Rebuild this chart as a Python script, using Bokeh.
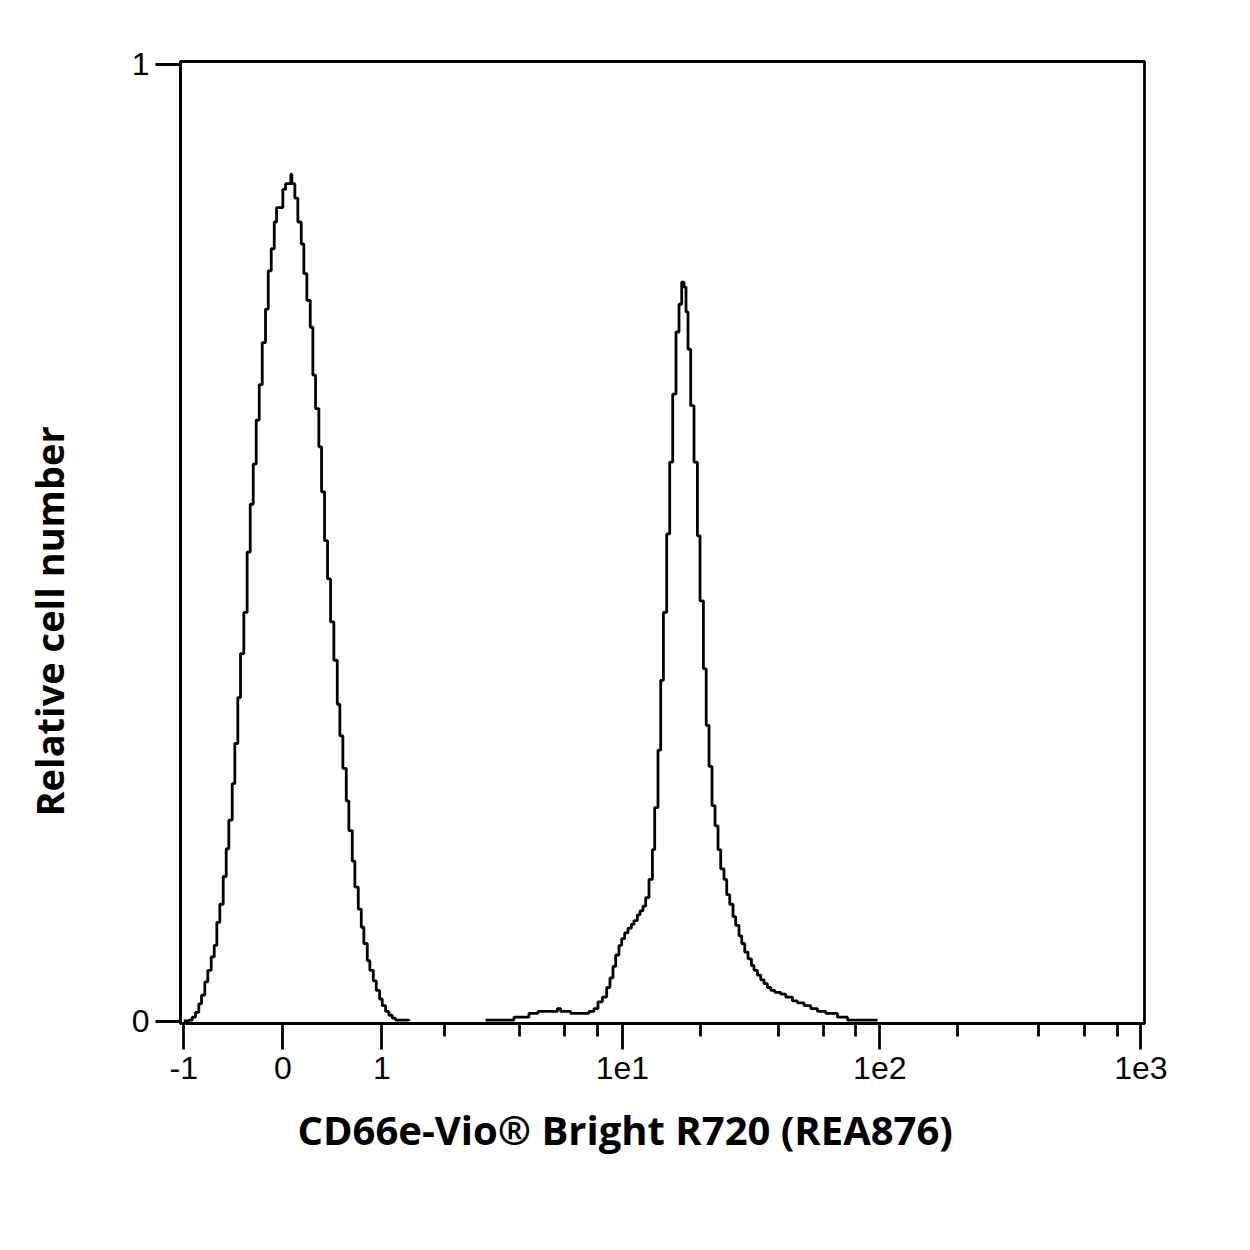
from bokeh.plotting import figure
from bokeh.models import FixedTicker, Range1d, Title, LinearAxis
from bokeh.embed import file_html
from bokeh.resources import INLINE

# ---- data (x in display-channel units of the biexponential axis, y = relative cell number) ----
# negative population: step boundaries and the level to the right of each boundary
neg_x = [3.3, 8.3, 11.7, 15.0, 18.3, 21.0, 24.3, 27.3, 30.7, 33.7, 36.3, 39.3, 42.7, 45.7,
         48.3, 51.7, 54.3, 57.3, 60.0, 63.3, 66.6, 69.7, 72.7, 75.7, 78.7, 81.7, 85.0, 87.7,
         90.7, 93.7, 96.0, 102.3, 105.0, 110.3, 111.3, 114.3, 117.3, 120.7, 123.3, 126.3,
         129.7, 132.3, 135.0, 138.3, 141.0, 144.0, 147.0, 150.0, 153.3, 156.7, 159.3, 162.3,
         165.7, 168.3, 171.7, 174.3, 177.7, 180.7, 183.3, 186.7, 189.3, 192.7, 195.7, 199.0,
         201.7, 205.0, 208.3, 211.7, 215.0, 228.3]
neg_y = [0.000, 0.001, 0.004, 0.009, 0.018, 0.027, 0.041, 0.053, 0.067, 0.079, 0.103, 0.122,
         0.151, 0.180, 0.210, 0.248, 0.290, 0.338, 0.384, 0.427, 0.490, 0.540, 0.582, 0.628,
         0.665, 0.709, 0.744, 0.784, 0.807, 0.835, 0.850, 0.869, 0.875, 0.885, 0.875, 0.860,
         0.835, 0.812, 0.781, 0.753, 0.725, 0.675, 0.640, 0.600, 0.553, 0.502, 0.462, 0.417,
         0.377, 0.331, 0.298, 0.264, 0.230, 0.199, 0.167, 0.140, 0.117, 0.098, 0.081, 0.063,
         0.053, 0.042, 0.032, 0.023, 0.016, 0.010, 0.006, 0.003, 0.001, 0.000]

# positive (CD66e+) population
pos_x = [305.0, 333.3, 348.3, 357.3, 376.7, 380.0, 390.0, 408.3, 413.3, 417.3, 421.7, 426.0,
         429.3, 432.3, 435.0, 438.3, 441.0, 444.0, 447.3, 450.7, 453.3, 456.7, 459.3, 462.3,
         465.0, 468.3, 471.7, 474.0, 477.3, 480.0, 482.7, 486.0, 489.0, 492.0, 495.3, 498.3,
         501.0, 503.3, 505.3, 507.3, 510.0, 513.3, 516.7, 519.3, 522.7, 525.5, 528.3, 531.3,
         534.3, 537.3, 540.0, 543.3, 546.0, 549.0, 552.3, 555.0, 558.3, 561.0, 564.0, 567.3,
         570.7, 573.3, 576.7, 580.0, 583.3, 586.7, 590.0, 594.0, 600.0, 605.0, 611.7, 616.7,
         623.3, 630.0, 636.7, 645.0, 656.7, 666.7, 696.7]
pos_y = [0.001, 0.004, 0.008, 0.010, 0.013, 0.010, 0.008, 0.010, 0.013, 0.020, 0.025, 0.035,
         0.045, 0.057, 0.069, 0.079, 0.086, 0.092, 0.097, 0.101, 0.105, 0.111, 0.115, 0.120,
         0.129, 0.148, 0.179, 0.223, 0.283, 0.356, 0.427, 0.509, 0.584, 0.655, 0.720, 0.749,
         0.772, 0.767, 0.741, 0.702, 0.643, 0.584, 0.507, 0.439, 0.368, 0.309, 0.266, 0.225,
         0.204, 0.179, 0.159, 0.148, 0.132, 0.122, 0.109, 0.100, 0.089, 0.081, 0.072, 0.065,
         0.058, 0.053, 0.048, 0.043, 0.039, 0.035, 0.032, 0.030, 0.028, 0.025, 0.021, 0.019,
         0.016, 0.013, 0.010, 0.008, 0.004, 0.001, 0.001]

# axis ticks (positions in display channel) and labels
x_major_ticks = [3.3, 102.3, 201.3, 441.7, 699.0, 960.0]
x_major_labels = ["-1", "0", "1", "1e1", "1e2", "1e3"]
x_minor_ticks = [264.3, 339.3, 384.3, 417.3, 519.3, 597.7, 642.7, 675.0,
                 777.0, 858.0, 903.6, 936.8]
y_major_ticks = [0, 1]
y_major_labels = ["0", "1"]

x_title = "CD66e-Vio\u00ae Bright R720 (REA876)"
y_title = "Relative cell number"

TICK_FONT = "'Liberation Sans Narrow', 'Liberation Sans', sans-serif"
LW = 2.8

p = figure(frame_width=964, frame_height=962,
           x_range=Range1d(0, 963.6), y_range=Range1d(-0.0026, 1.0027),
           output_backend="svg", toolbar_location=None,
           min_border_left=180, min_border_top=61, min_border_right=60,
           min_border_bottom=180)
p.background_fill_color = "white"
p.border_fill_color = "white"
p.outline_line_color = "black"
p.outline_line_width = LW
p.xgrid.visible = False
p.ygrid.visible = False

p.step(neg_x, neg_y, mode="after", line_color="black", line_width=LW)
p.step(pos_x, pos_y, mode="after", line_color="black", line_width=LW)

xa = p.xaxis[0]
xa.ticker = FixedTicker(ticks=x_major_ticks, minor_ticks=x_minor_ticks)
xa.major_label_overrides = dict(zip(x_major_ticks, x_major_labels))
xa.axis_line_width = LW
xa.major_tick_line_width = LW
xa.minor_tick_line_width = LW
xa.major_tick_in = 0
xa.major_tick_out = 26
xa.minor_tick_in = 0
xa.minor_tick_out = 13
xa.major_label_standoff = 7
xa.major_label_text_font = TICK_FONT
xa.major_label_text_font_size = "32px"
xa.major_label_text_color = "black"

ya = p.yaxis[0]
ya.ticker = FixedTicker(ticks=y_major_ticks, minor_ticks=[])
ya.major_label_overrides = dict(zip(y_major_ticks, y_major_labels))
ya.axis_line_width = LW
ya.major_tick_line_width = LW
ya.major_tick_in = 0
ya.major_tick_out = 25
ya.minor_tick_line_color = None
ya.major_label_standoff = 6
ya.major_label_text_font = TICK_FONT
ya.major_label_text_font_size = "32px"
ya.major_label_text_color = "black"

# empty spacer axis so that the y title sits further to the left
spacer = LinearAxis(ticker=FixedTicker(ticks=[], minor_ticks=[]), axis_line_color=None,
                    major_tick_line_color=None, minor_tick_line_color=None,
                    major_tick_in=0, major_tick_out=0, minor_tick_out=0,
                    axis_label=" ", axis_label_standoff=40,
                    axis_label_text_font_size="10px")
p.add_layout(spacer, "left")

p.add_layout(Title(text=y_title, align="left", offset=207, vertical_align="bottom",
                   standoff=0, text_font="Open Sans", text_font_style="bold",
                   text_font_size="38px", text_color="black"), "left")
p.add_layout(Title(text=x_title, align="left", offset=117, vertical_align="bottom",
                   standoff=36, text_font="Open Sans", text_font_style="bold",
                   text_font_size="40px", text_color="black"), "below")

open("out.html", "w").write(file_html(p, INLINE))
